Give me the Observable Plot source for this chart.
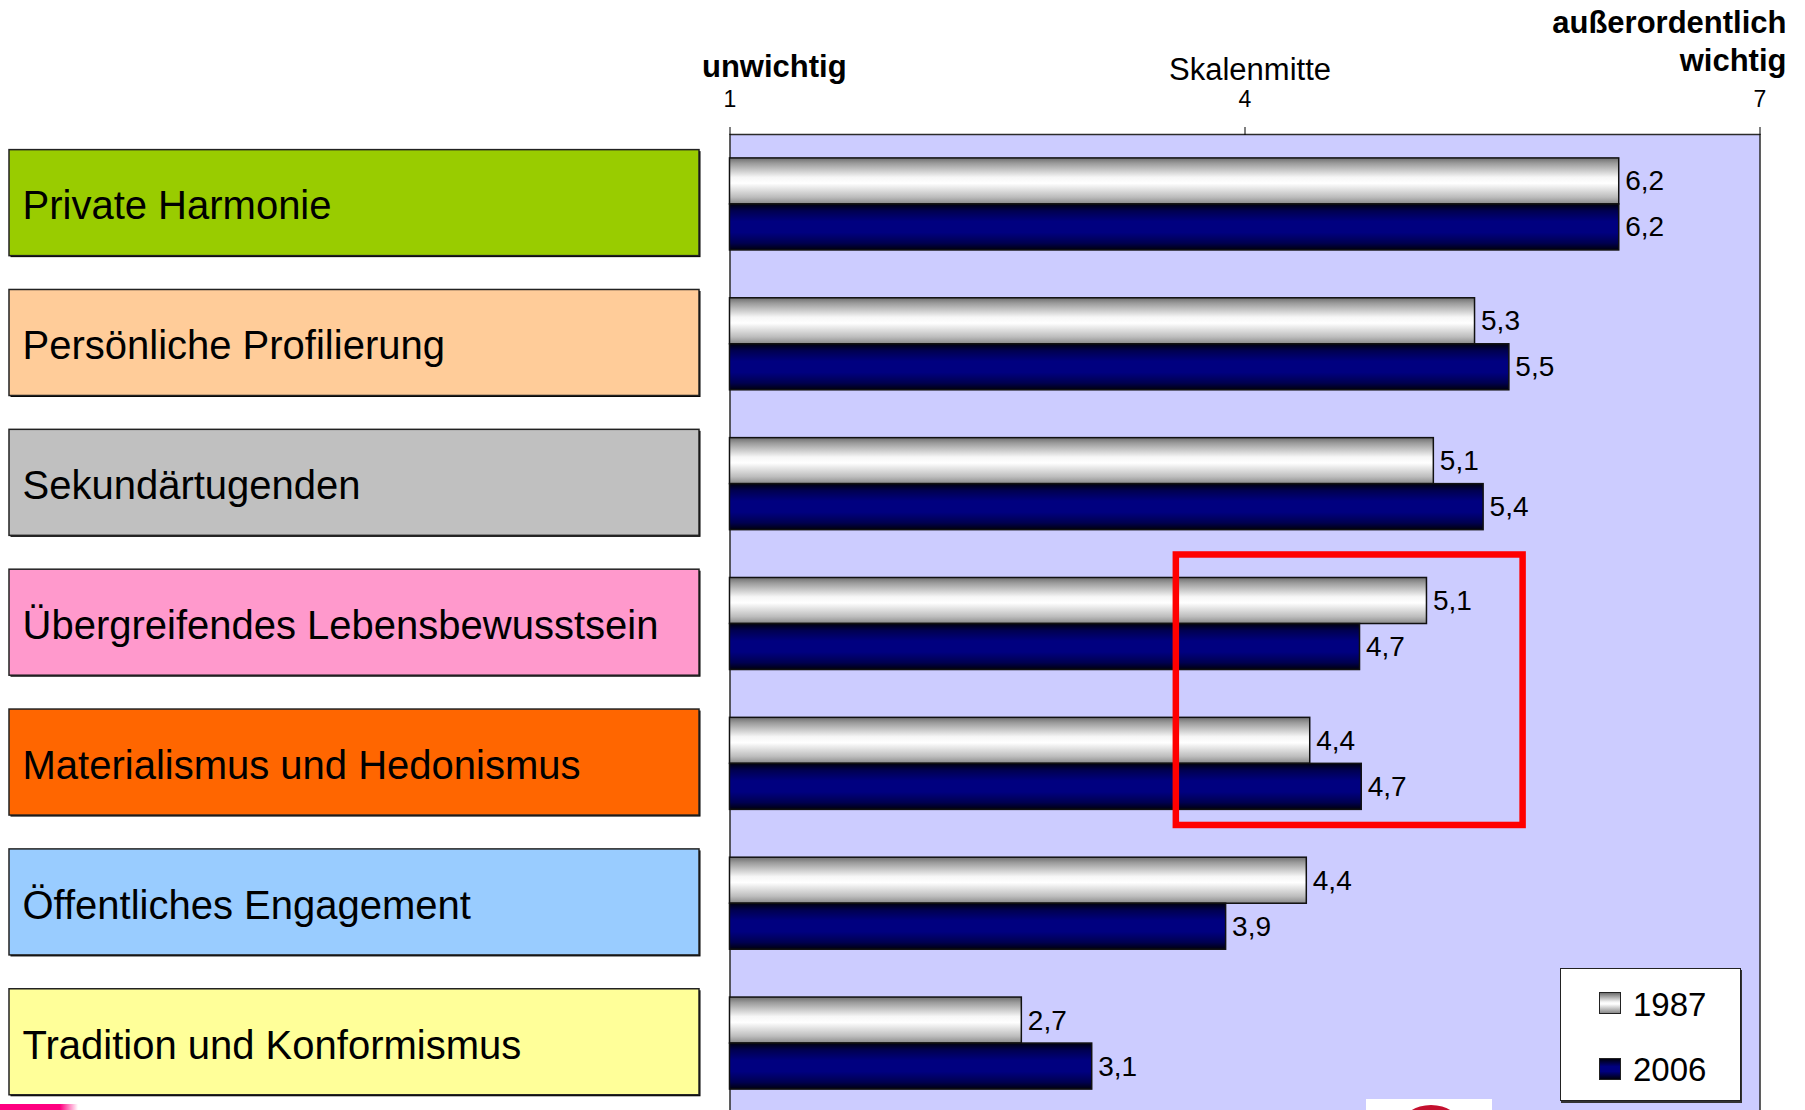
<!DOCTYPE html>
<html><head><meta charset="utf-8">
<script src="https://cdn.jsdelivr.net/npm/d3@7"></script>
<script src="https://cdn.jsdelivr.net/npm/@observablehq/plot@0.6"></script>
<style>
html,body{margin:0;padding:0;background:#fff;overflow:hidden;}
#wrap{position:relative;width:1805px;height:1110px;overflow:hidden;background:#fff;font-family:"Liberation Sans",Arial,sans-serif;}
#wrap svg{position:absolute;left:0;top:0;}
#legend{position:absolute;left:1560px;top:968px;width:181px;height:133px;box-sizing:border-box;background:#fff;border:1.5px solid #222;box-shadow:1px 2px 0 #333;}
#legend .sw{position:absolute;left:38px;width:20px;height:20px;border:1px solid #222;}
#legend .lab{position:absolute;left:72px;font-size:33px;line-height:33px;color:#000;}
.deco{position:absolute;}
</style></head>
<body><div id="wrap"></div>
<script>
// ---- data ----
const categories = [
  "Private Harmonie",
  "Persönliche Profilierung",
  "Sekundärtugenden",
  "Übergreifendes Lebensbewusstsein",
  "Materialismus und Hedonismus",
  "Öffentliches Engagement",
  "Tradition und Konformismus"
];
const boxColors = ["#99cc00", "#ffcc99", "#c0c0c0", "#ff99cc", "#ff6600", "#99ccff", "#ffff99"];
const values1987 = [6.18, 5.34, 5.10, 5.06, 4.38, 4.36, 2.70];
const values2006 = [6.18, 5.54, 5.39, 4.67, 4.68, 3.89, 3.11];
const years = ["1987", "2006"];
const xTicks = [1, 4, 7];
const scaleTexts = ["unwichtig", "Skalenmitte", "außerordentlich\nwichtig"];
const highlight = [{from: categories[3], to: categories[4], x1: 3.6, x2: 5.62}];

const FONT = '"Liberation Sans", Arial, sans-serif';
const fmt = v => v.toFixed(1).replace(".", ",");
const rows = categories.map((c, i) => ({cat: c, v1987: values1987[i], v2006: values2006[i]}));
const scaleLabels = xTicks.map((x, i) => ({x, text: scaleTexts[i]}));

const wrap = document.getElementById("wrap");

// ---- left column: coloured category boxes ----
const left = Plot.plot({
  width: 1805, height: 1113,
  marginLeft: 9, marginRight: 1106, marginTop: 132.7, marginBottom: 1.3,
  style: {background: "transparent", fontFamily: FONT, overflow: "visible"},
  y: {domain: categories, paddingInner: 0.242, paddingOuter: 0.121, round: false, axis: null},
  color: {type: "identity"},
  marks: [
    Plot.cell(categories, {y: d => d, fill: "#000", dx: 1.5, dy: 1.5}),
    Plot.cell(categories, {y: d => d, fill: (d, i) => boxColors[i], stroke: "#222", strokeWidth: 1.5}),
    Plot.text(categories, {y: d => d, text: d => d, frameAnchor: "left", dx: 13, dy: 3.5, fontSize: 40, fill: "#000"})
  ]
});

// ---- main bar chart ----
const main = Plot.plot({
  width: 1805, height: 1113,
  marginLeft: 729.5, marginRight: 45.5, marginTop: 134, marginBottom: 0,
  style: {background: "transparent", fontFamily: FONT, overflow: "visible", color: "#000"},
  x: {domain: [1, 7]},
  y: {domain: categories, paddingInner: 0.342, paddingOuter: 0.171, round: false, axis: null},
  marks: [
    Plot.frame({fill: "#ccccff", stroke: "#2b2b2b", strokeWidth: 1.5}),
    Plot.axisX({anchor: "top", ticks: xTicks, tickSize: 8, tickPadding: 20, fontSize: 23, label: null, tickFormat: d => String(d)}),
    Plot.barX(rows, {y: "cat", x1: xTicks[0], x2: "v1987", insetBottom: 46, fill: "url(#g1987)", stroke: "#111", strokeWidth: 1.5}),
    Plot.barX(rows, {y: "cat", x1: xTicks[0], x2: "v2006", insetTop: 46, fill: "url(#g2006)", stroke: "#111", strokeWidth: 1.5}),
    Plot.text(rows, {x: "v1987", y: "cat", text: d => fmt(d.v1987), dx: 6, dy: -23, textAnchor: "start", fontSize: 28, fill: "#000"}),
    Plot.text(rows, {x: "v2006", y: "cat", text: d => fmt(d.v2006), dx: 6, dy: 23, textAnchor: "start", fontSize: 28, fill: "#000"}),
    Plot.rect(highlight, {x1: "x1", x2: "x2", y1: "from", y2: "to", fill: "none", stroke: "#ff0000", strokeWidth: 6.5, insetTop: -23, insetBottom: -15.6}),
    Plot.text([scaleLabels[0]], {x: "x", text: "text", frameAnchor: "top", lineAnchor: "bottom", dy: -57.3, dx: -28, textAnchor: "start", fontWeight: "bold", fontSize: 31, fill: "#000"}),
    Plot.text([scaleLabels[1]], {x: "x", text: "text", frameAnchor: "top", lineAnchor: "bottom", dy: -54.7, dx: 5, textAnchor: "middle", fontSize: 31, fill: "#000"}),
    Plot.text([scaleLabels[2]], {x: "x", text: "text", frameAnchor: "top", lineAnchor: "bottom", dy: -63.5, dx: 26.5, textAnchor: "end", fontWeight: "bold", fontSize: 31, lineHeight: 1.226, fill: "#000"})
  ]
});

main.insertAdjacentHTML("afterbegin", `<defs>
<linearGradient id="g1987" x1="0" y1="0" x2="0" y2="1">
  <stop offset="0" stop-color="#6e6e6e"/><stop offset="0.12" stop-color="#9c9c9c"/>
  <stop offset="0.42" stop-color="#f6f6f6"/><stop offset="0.55" stop-color="#ffffff"/>
  <stop offset="0.85" stop-color="#bdbdbd"/><stop offset="1" stop-color="#8a8a8a"/>
</linearGradient>
<linearGradient id="g2006" x1="0" y1="0" x2="0" y2="1">
  <stop offset="0" stop-color="#00000e"/><stop offset="0.15" stop-color="#000050"/>
  <stop offset="0.38" stop-color="#000080"/><stop offset="0.62" stop-color="#000080"/>
  <stop offset="0.85" stop-color="#000050"/><stop offset="1" stop-color="#00000e"/>
</linearGradient></defs>`);

wrap.appendChild(left);
wrap.appendChild(main);

// ---- legend ----
const legend = document.createElement("div");
legend.id = "legend";
const swatchBg = {
  "1987": "linear-gradient(to bottom,#6e6e6e,#f6f6f6 45%,#fff 55%,#8a8a8a)",
  "2006": "linear-gradient(to bottom,#00000e,#000080 38%,#000080 62%,#00000e)"
};
years.forEach((yr, i) => {
  const sw = document.createElement("span");
  sw.className = "sw";
  sw.style.top = (23 + i * 65.5) + "px";
  sw.style.background = swatchBg[yr];
  const lab = document.createElement("span");
  lab.className = "lab";
  lab.style.top = (18.5 + i * 65.3) + "px";
  lab.textContent = yr;
  legend.appendChild(sw);
  legend.appendChild(lab);
});
wrap.appendChild(legend);

// ---- cut-off logo fragments at the bottom edge ----
const pink = document.createElement("div");
pink.className = "deco";
Object.assign(pink.style, {left: "0px", top: "1104px", width: "78px", height: "6px", background: "linear-gradient(to right,#ff0080 0,#ff0080 60px,rgba(255,0,128,0) 78px)"});
wrap.appendChild(pink);
const logo = document.createElement("div");
logo.className = "deco";
Object.assign(logo.style, {left: "1366px", top: "1099px", width: "126px", height: "11px", background: "#fff", overflow: "hidden"});
const dome = document.createElement("div");
Object.assign(dome.style, {position: "absolute", left: "36px", top: "6px", width: "58px", height: "40px", borderRadius: "50%", background: "#c4102e"});
logo.appendChild(dome);
wrap.appendChild(logo);
</script>
</body></html>
